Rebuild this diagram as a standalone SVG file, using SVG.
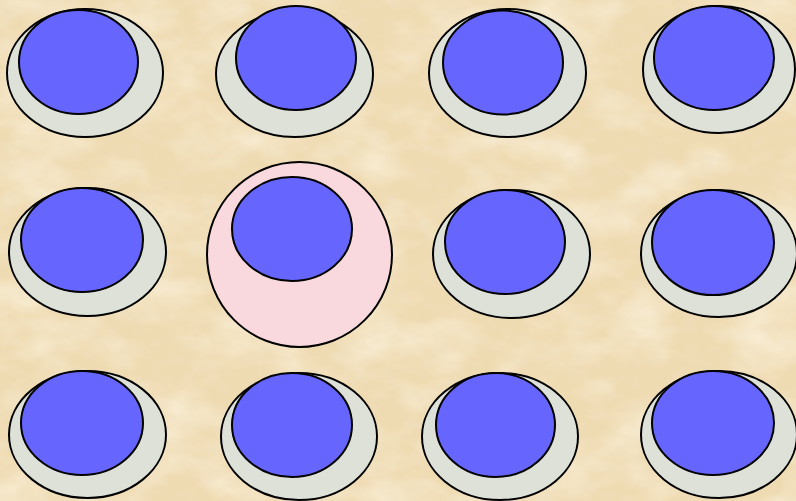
<svg xmlns="http://www.w3.org/2000/svg" width="796" height="501" viewBox="0 0 796 501">
  <defs>
    <filter id="parch" x="0" y="0" width="100%" height="100%">
      <feTurbulence type="fractalNoise" baseFrequency="0.015 0.025" numOctaves="4" seed="7" result="n"/>
      <feColorMatrix in="n" type="matrix" values="0 0 0 0 1  0 0 0 0 0.96  0 0 0 0 0.86  1.2 0 0 0 -0.5"/>
    </filter>
    <filter id="parch2" x="0" y="0" width="100%" height="100%">
      <feTurbulence type="fractalNoise" baseFrequency="0.06 0.09" numOctaves="3" seed="3" result="n"/>
      <feColorMatrix in="n" type="matrix" values="0 0 0 0 0.85  0 0 0 0 0.74  0 0 0 0 0.55  1.0 0 0 0 -0.5"/>
    </filter>
  </defs>
  <style>
    .base { fill: #dde1d8; stroke: #000; stroke-width: 2; }
    .pink { fill: #f9d9de; stroke: #000; stroke-width: 2; }
    .top { fill: #6666ff; stroke: #000; stroke-width: 2; }
  </style>
  <rect width="796" height="501" fill="#efdbb2"/>
  <rect width="796" height="501" filter="url(#parch)"/>
  <rect width="796" height="501" filter="url(#parch2)"/>

  <g id="node-r1c1"><ellipse class="base" cx="85" cy="73" rx="78" ry="64"/><ellipse class="top" cx="78.5" cy="62" rx="59.5" ry="52"/></g>
  <g id="node-r1c2"><ellipse class="base" cx="294.5" cy="74" rx="78.5" ry="63"/><ellipse class="top" cx="296" cy="58" rx="60" ry="52"/></g>
  <g id="node-r1c3"><ellipse class="base" cx="507.5" cy="73" rx="78.5" ry="64"/><ellipse class="top" cx="503" cy="62.5" rx="60" ry="52"/></g>
  <g id="node-r1c4"><ellipse class="base" cx="719" cy="69.5" rx="76" ry="63.5"/><ellipse class="top" cx="714" cy="58" rx="60" ry="52"/></g>

  <g id="node-r2c1"><ellipse class="base" cx="87.5" cy="252" rx="78.5" ry="64"/><ellipse class="top" cx="82" cy="240" rx="61" ry="52"/></g>
  <g id="node-r2c2"><circle class="pink" cx="299.5" cy="254.5" r="92.5"/><ellipse class="top" cx="292" cy="229" rx="60" ry="52"/></g>
  <g id="node-r2c3"><ellipse class="base" cx="511.5" cy="254" rx="78.5" ry="64"/><ellipse class="top" cx="505" cy="242" rx="60" ry="52"/></g>
  <g id="node-r2c4"><ellipse class="base" cx="719" cy="253.5" rx="78" ry="63.5"/><ellipse class="top" cx="713" cy="242.5" rx="61" ry="52.5"/></g>

  <g id="node-r3c1"><ellipse class="base" cx="87.5" cy="434.5" rx="78.5" ry="63.5"/><ellipse class="top" cx="82" cy="423" rx="61" ry="52"/></g>
  <g id="node-r3c2"><ellipse class="base" cx="299" cy="436.5" rx="78" ry="63.5"/><ellipse class="top" cx="292" cy="425" rx="60" ry="52"/></g>
  <g id="node-r3c3"><ellipse class="base" cx="500" cy="436.5" rx="78" ry="63.5"/><ellipse class="top" cx="495.5" cy="425" rx="59.5" ry="52"/></g>
  <g id="node-r3c4"><ellipse class="base" cx="719" cy="434.5" rx="78" ry="63.5"/><ellipse class="top" cx="713" cy="423" rx="61" ry="52"/></g>
</svg>
